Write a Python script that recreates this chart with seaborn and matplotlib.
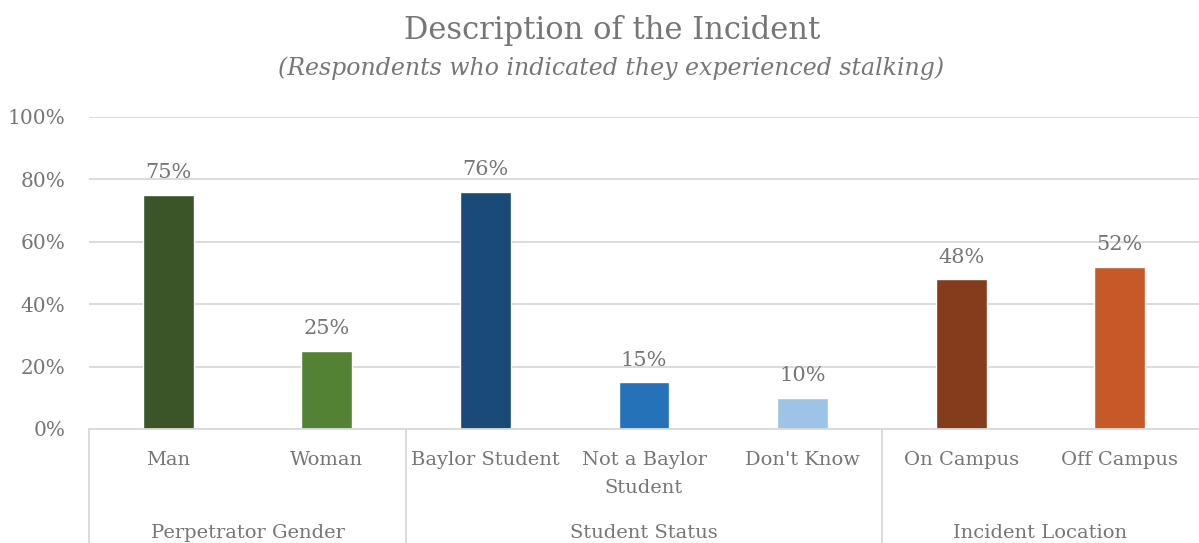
import matplotlib
matplotlib.use("Agg")
import matplotlib.pyplot as plt
import matplotlib.transforms as mtransforms
import matplotlib.ticker as mticker
import pandas as pd
import seaborn as sns

# ── Data ──────────────────────────────────────────────────────────────────────
categories = ["Man", "Woman", "Baylor Student", "Not a Baylor\nStudent",
              "Don't Know", "On Campus", "Off Campus"]
percentages = [75, 25, 76, 15, 10, 48, 52]
groups = ["Perpetrator Gender", "Student Status", "Incident Location"]
group_sizes = [2, 3, 2]
bar_colors = ["#3B5528", "#548235", "#1A4A78", "#2572B8",
              "#9DC3E6", "#843C1D", "#C55A28"]

# ── Style ─────────────────────────────────────────────────────────────────────
sns.set_theme(style="white")
plt.rcParams["font.family"] = ["DejaVu Serif"]
TEXT = "#767676"
GRID = "#D9D9D9"

df = pd.DataFrame({"category": categories, "pct": percentages})

fig = plt.figure(figsize=(11.99, 5.43), dpi=100)
W, H = 1199, 543
ax = fig.add_axes([89 / W, (H - 429) / H, (1199 - 89) / W, (429 - 117) / H])

sns.barplot(data=df, x="category", y="pct", hue="category",
            palette=bar_colors, legend=False, width=0.32,
            saturation=1, ax=ax)

for cont, val in zip(ax.containers, percentages):
    ax.bar_label(cont, labels=[f"{val}%"], padding=9,
                 fontsize=15, color=TEXT)

ax.set_ylim(0, 100)
ax.set_xlim(-0.5, len(categories) - 0.5)
ax.yaxis.set_major_locator(mticker.MultipleLocator(20))
ax.yaxis.set_major_formatter(mticker.FuncFormatter(lambda v, _: f"{int(v)}%"))
ax.grid(axis="y", color=GRID, linewidth=1.3)
ax.set_axisbelow(True)
for s in ax.spines.values():
    s.set_visible(False)
ax.set_xlabel("")
ax.set_ylabel("")
ax.tick_params(axis="y", length=0, pad=17, labelsize=14.5, labelcolor=TEXT)
ax.tick_params(axis="x", length=0, pad=16, labelsize=14, labelcolor=TEXT)
for lab in ax.get_xticklabels():
    lab.set_linespacing(1.7)
    lab.set_verticalalignment("top")

# multi-level category axis: separators (right edge falls off the canvas)
trans = mtransforms.blended_transform_factory(ax.transData, ax.transAxes)
edges = [-0.5]
for n in group_sizes:
    edges.append(edges[-1] + n)
for xe in edges[:-1]:
    ax.plot([xe, xe], [0, -0.5], color=GRID, linewidth=1.3,
            transform=trans, clip_on=False)
ax.plot([-0.5, len(categories) - 0.5], [0, 0], color=GRID, linewidth=1.3,
        transform=trans, clip_on=False)
for g, lo, hi in zip(groups, edges[:-1], edges[1:]):
    fig.text(0, 0, g, fontsize=14, color=TEXT, ha="center", va="center",
             transform=mtransforms.blended_transform_factory(
                 ax.transData, fig.transFigure),
             position=((lo + hi) / 2, (H - 533) / H))

# ── Titles ────────────────────────────────────────────────────────────────────
fig.text(612 / W, (H - 30) / H, "Description of the Incident",
         fontsize=22, color=TEXT, ha="center", va="center")
fig.text(611 / W, (H - 68) / H,
         "(Respondents who indicated they experienced stalking)",
         fontsize=17, style="italic", color=TEXT, ha="center", va="center")

fig.savefig("out.png", dpi=100)
plt.close(fig)
